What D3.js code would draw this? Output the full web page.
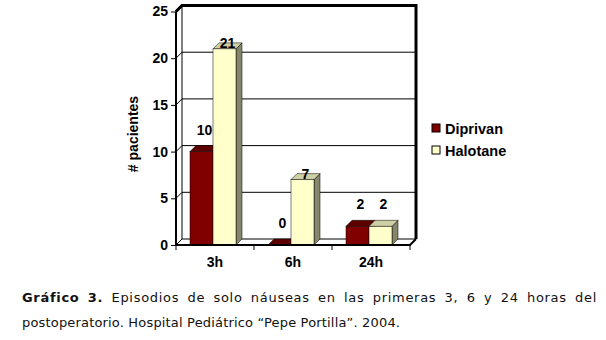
<!DOCTYPE html>
<html>
<head>
<meta charset="utf-8">
<script src="https://cdn.jsdelivr.net/npm/d3@7"></script>
<style>
  body { margin: 0; background: #fff; }
</style>
</head>
<body>
<svg width="606" height="340" font-family="Arial, 'Liberation Sans', sans-serif"></svg>
<script>
// data
const categories = ["3h", "6h", "24h"];
const seriesNames = ["Diprivan", "Halotane"];
const diprivan = [10, 0, 2];
const halotane = [21, 7, 2];
const yTicks = [0, 5, 10, 15, 20, 25];
const captionLine1 = ["Gráfico", "3.", "Episodios", "de", "solo", "náuseas", "en", "las", "primeras", "3,", "6", "y", "24", "horas", "del"];
const captionLine2 = "postoperatorio. Hospital Pediátrico “Pepe Portilla”. 2004.";

const svg = d3.select("svg");

// 3d depth offset of the excel chart
const depth = {dx: 6, dy: -6};

const x = d3.scaleBand()
  .domain(categories)
  .range([176, 410]);

const y = d3.scaleLinear()
  .domain([0, 25])
  .range([245, 11.5]);

const colors = {
  Diprivan: {front: "#800000", top: "#5c0000", side: "#3d0000"},
  Halotane: {front: "#ffffcc", top: "#cfcfa6", side: "#86866a"}
};

const barW = 23;
const barPad = 14;
const fs = 14;

const g = svg.append("g");

// back wall
const x0 = x.range()[0], x1 = x.range()[1];
g.append("rect")
  .attr("x", x0 + depth.dx).attr("y", y(25) + depth.dy)
  .attr("width", x1 - x0).attr("height", y(0) - y(25))
  .attr("fill", "#fff");

// gridlines on back wall and left wall
yTicks.forEach(t => {
  if (t === 0) return;
  g.append("polyline")
    .attr("points", [[x0, y(t)], [x0 + depth.dx, y(t) + depth.dy], [x1 + depth.dx, y(t) + depth.dy]].join(" "))
    .attr("fill", "none")
    .attr("stroke", "#000")
    .attr("stroke-width", t === 25 ? 3 : 1);
});

// right edge of back wall
g.append("line")
  .attr("x1", x1 + depth.dx).attr("x2", x1 + depth.dx)
  .attr("y1", y(25) + depth.dy - 1.5).attr("y2", y(0) + depth.dy)
  .attr("stroke", "#000").attr("stroke-width", 3);

// back edge of left wall
g.append("line")
  .attr("x1", x0 + depth.dx).attr("x2", x0 + depth.dx)
  .attr("y1", y(25) + depth.dy).attr("y2", y(0) + depth.dy)
  .attr("stroke", "#000").attr("stroke-width", 1);

// floor
g.append("polygon")
  .attr("points", [[x0, y(0)], [x1, y(0)], [x1 + depth.dx, y(0) + depth.dy], [x0 + depth.dx, y(0) + depth.dy]].join(" "))
  .attr("fill", "#fff")
  .attr("stroke", "#000")
  .attr("stroke-width", 1);

// bars
const bars = [];
categories.forEach((c, i) => {
  [diprivan[i], halotane[i]].forEach((v, j) => {
    bars.push({cat: c, series: seriesNames[j], value: v, x: x(c) + barPad + j * barW});
  });
});

bars.forEach(d => {
  const col = colors[d.series];
  const xl = d.x, xr = d.x + barW, yt = y(d.value), yb = y(0);
  const bar = g.append("g");
  bar.append("polygon")
    .attr("points", [[xr, yb], [xr + depth.dx, yb + depth.dy], [xr + depth.dx, yt + depth.dy], [xr, yt]].join(" "))
    .attr("fill", col.side).attr("stroke", "#000").attr("stroke-width", 0.5);
  bar.append("polygon")
    .attr("points", [[xl, yt], [xl + depth.dx, yt + depth.dy], [xr + depth.dx, yt + depth.dy], [xr, yt]].join(" "))
    .attr("fill", col.top).attr("stroke", "#000").attr("stroke-width", 0.5);
  bar.append("rect")
    .attr("x", xl).attr("y", yt)
    .attr("width", barW).attr("height", yb - yt)
    .attr("fill", col.front).attr("stroke", "#000").attr("stroke-width", 0.5);
});

// left wall front edge
g.append("line")
  .attr("x1", x0).attr("x2", x0)
  .attr("y1", y(25)).attr("y2", y(0) + 1)
  .attr("stroke", "#000").attr("stroke-width", 2);
// left wall top edge
g.append("line")
  .attr("x1", x0).attr("x2", x0 + depth.dx)
  .attr("y1", y(25)).attr("y2", y(25) + depth.dy)
  .attr("stroke", "#000").attr("stroke-width", 2);

// floor front edge and right edge
g.append("polyline")
  .attr("points", [[x0 - 1, y(0)], [x1, y(0)], [x1 + depth.dx, y(0) + depth.dy]].join(" "))
  .attr("fill", "none")
  .attr("stroke", "#000").attr("stroke-width", 2);

// y axis
const yAxis = d3.axisLeft(y).tickValues(yTicks).tickSize(5).tickPadding(3);
const ya = svg.append("g")
  .attr("transform", `translate(${x0},0)`)
  .call(yAxis);
ya.select(".domain").remove();
ya.attr("font-family", null).attr("font-size", null);
ya.selectAll("text")
  .attr("font-size", fs).attr("font-weight", "bold");

// x axis
const xAxis = d3.axisBottom(x).tickSize(0).tickPadding(12);
const xa = svg.append("g")
  .attr("transform", `translate(0,${y(0)})`)
  .call(xAxis);
xa.select(".domain").remove();
xa.attr("font-family", null).attr("font-size", null);
xa.selectAll("text")
  .attr("font-size", fs).attr("font-weight", "bold");
// band separator ticks
[x0, ...categories.map(c => x(c) + x.bandwidth())].forEach(t => {
  svg.append("line")
    .attr("x1", t).attr("x2", t)
    .attr("y1", y(0)).attr("y2", y(0) + 5)
    .attr("stroke", "#000").attr("stroke-width", 1);
});

// value labels
bars.forEach(d => {
  const top = y(d.value);
  // tall light bars get their label sitting on the bar
  const base = (d.series === "Halotane" && d.value > 5) ? top - 1 : top - 17;
  svg.append("text")
    .attr("x", d.x + barW / 2 + depth.dx / 2)
    .attr("y", base)
    .attr("text-anchor", "middle")
    .attr("font-size", fs).attr("font-weight", "bold")
    .text(d.value);
});

// axis title
svg.append("text")
  .attr("transform", "translate(138,134) rotate(-90)")
  .attr("text-anchor", "middle")
  .attr("font-size", 14).attr("font-weight", "bold")
  .text("# pacientes");

// legend
const legend = svg.append("g").attr("transform", "translate(432,124)");
seriesNames.forEach((s, i) => {
  const row = legend.append("g").attr("transform", `translate(0,${i * 22})`);
  row.append("rect")
    .attr("width", 8).attr("height", 8)
    .attr("fill", colors[s].front)
    .attr("stroke", "#000").attr("stroke-width", 1);
  row.append("text")
    .attr("x", 13).attr("y", 9.5)
    .attr("font-size", 14.5).attr("font-weight", "bold")
    .text(s);
});

// caption, first line justified
const capFont = "'DejaVu Sans', Verdana, sans-serif";
const capSize = 13;
const capSpacing = 0.7;
const cap = svg.append("g");
const words = captionLine1.map((w, i) => cap.append("text")
  .attr("y", 302)
  .attr("font-family", capFont)
  .attr("font-size", capSize)
  .attr("letter-spacing", capSpacing)
  .attr("font-weight", i < 2 ? "bold" : "normal")
  .attr("fill", "#111")
  .text(w));
const widths = words.map(t => t.node().getComputedTextLength());
const left = 22, right = 597;
const gap = (right - left - d3.sum(widths)) / (words.length - 1);
let cx = left;
words.forEach((t, i) => {
  t.attr("x", cx);
  cx += widths[i] + gap;
});
cap.append("text")
  .attr("x", left).attr("y", 327)
  .attr("font-family", capFont)
  .attr("font-size", capSize)
  .attr("textLength", 378)
  .attr("lengthAdjust", "spacing")
  .attr("fill", "#111")
  .text(captionLine2);
</script>
</body>
</html>
